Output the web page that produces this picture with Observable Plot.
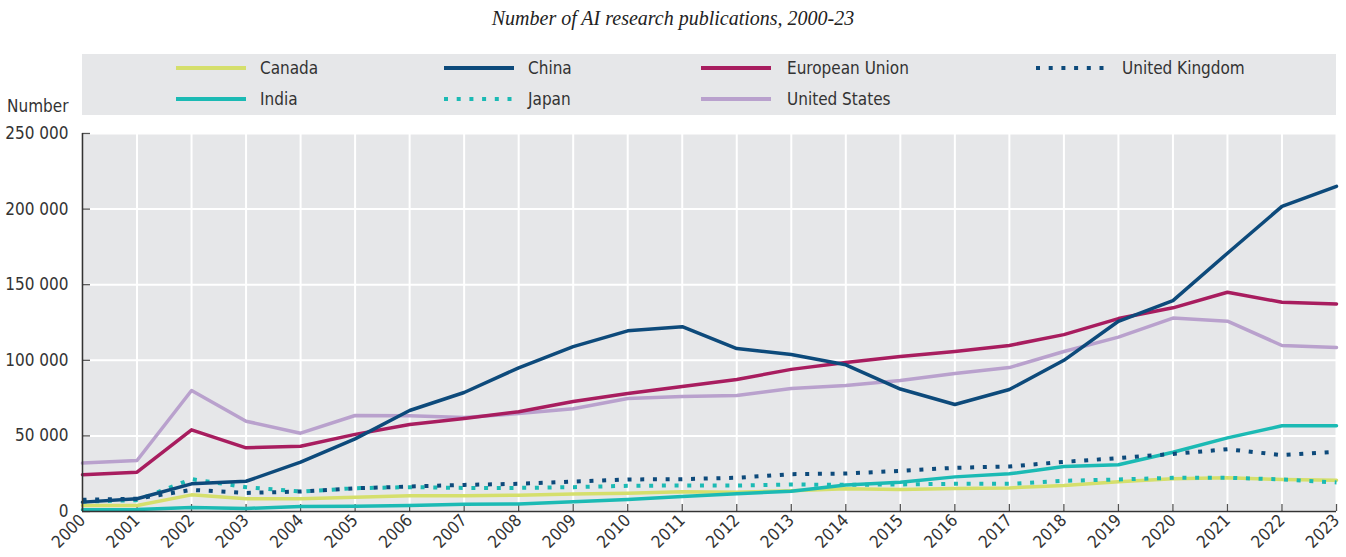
<!DOCTYPE html>
<html><head><meta charset="utf-8">
<script src="https://cdn.jsdelivr.net/npm/d3@7"></script>
<script src="https://cdn.jsdelivr.net/npm/@observablehq/plot@0.6"></script>
<style>
body{margin:0;width:1346px;height:557px;position:relative;overflow:hidden;background:#fff;font-family:"Liberation Sans Narrow","DejaVu Sans Condensed","Roboto Condensed",Roboto,sans-serif;color:#333;}
#sub{position:absolute;top:7px;left:0;width:1346px;text-align:center;font-style:italic;font-size:20px;font-family:"Liberation Serif","DejaVu Serif",serif;color:#222;}
#legend{position:absolute;left:82px;top:54px;width:1254px;height:61px;background:#e6e7e9;}
.sw{position:absolute;width:70px;height:6px;}
.lb{position:absolute;font-size:17px;line-height:20px;color:#333;}
#ylab{position:absolute;left:7px;top:96px;font-size:17px;color:#333;}
#chart{position:absolute;left:0;top:0;}
</style></head>
<body>
<div id="chart"></div>
<div id="sub">Number of AI research publications, 2000-23</div>
<div id="legend"></div>
<div id="ylab">Number</div>
<script>
const years = [2000,2001,2002,2003,2004,2005,2006,2007,2008,2009,2010,2011,2012,2013,2014,2015,2016,2017,2018,2019,2020,2021,2022,2023];
const yTicks = [0,50000,100000,150000,200000,250000];
const countries = ["Canada","China","European Union","United Kingdom","India","Japan","United States"];
const canada = [4000,4000,11000,8400,8400,9500,10400,10400,10800,11500,12100,13000,12800,13700,15000,14600,15200,15600,17200,19600,21600,22300,21200,20700];
const china  = [6200,8400,18300,20000,32600,48000,66800,78700,95000,109000,119500,122200,107800,103800,97000,81000,70800,80700,100000,125800,139500,170800,201800,215000];
const eu     = [24300,26000,54000,42100,43200,51000,57500,61500,66000,72800,78000,82700,87300,94000,98500,102500,105800,109800,117000,127600,134700,145000,138400,137300];
const uk     = [7700,8500,14300,12300,13200,15400,16500,17600,18300,19800,21200,21400,22300,24700,25100,26900,28900,29800,32800,35300,38100,41200,37300,39500];
const india  = [1100,1300,2600,2000,3300,3500,4000,4800,5000,6400,7900,9900,11700,13400,17600,19400,22900,24900,29800,30900,39200,48700,56700,56700];
const japan  = [6500,7500,21400,16100,13200,15400,16100,15600,15600,16100,17000,17200,17200,17900,17600,17900,18300,18300,20300,21200,22300,22300,21200,19200];
const us     = [32000,33700,80000,59700,51800,63500,63300,62200,64800,68000,74700,76000,76700,81300,83300,86600,91300,95200,105800,115300,127900,125900,109800,108500];

const seriesValues = {"Canada":canada,"China":china,"European Union":eu,"United Kingdom":uk,"India":india,"Japan":japan,"United States":us};
const styles = {
  "Canada":{stroke:"#d5df6c"},
  "China":{stroke:"#0d4a7b"},
  "European Union":{stroke:"#a81d5f"},
  "United Kingdom":{stroke:"#0d4a7b",dash:"4,8.7"},
  "India":{stroke:"#1bbab4"},
  "Japan":{stroke:"#1bbab4",dash:"4,8.7"},
  "United States":{stroke:"#b9a1cd"}
};
const drawOrder = ["Canada","India","Japan","United Kingdom","United States","European Union","China"];

const table = [];
for (const c of countries) seriesValues[c].forEach((v,i)=>table.push({country:c,year:years[i],value:v}));

const fmt = d => d3.format(",")(d).replace(/,/g," ");
const font = '"Liberation Sans Narrow","DejaVu Sans Condensed","Roboto Condensed",Roboto,sans-serif';

const lineMarks = drawOrder.map(c => Plot.line(table.filter(d=>d.country===c), {
  x:"year", y:"value", stroke: styles[c].stroke, strokeWidth: styles[c].dash?4:3.5,
  strokeDasharray: styles[c].dash, strokeLinecap: styles[c].dash?"butt":"round", strokeLinejoin:"round"
}));

const plot = Plot.plot({
  width:1346, height:557,
  marginLeft:82, marginRight:10, marginTop:133, marginBottom:46,
  style:{fontFamily:font, fontSize:"17px", color:"#333", background:"transparent", overflow:"visible"},
  x:{domain:[2000,2023], label:null},
  y:{domain:[0,250000], label:null},
  marks:[
    Plot.frame({fill:"#e6e7e9", stroke:null}),
    Plot.gridX(years, {stroke:"#fff", strokeOpacity:1, strokeWidth:2}),
    Plot.gridY(yTicks, {stroke:"#fff", strokeOpacity:1, strokeWidth:2}),
    Plot.tickX(years, {x:d=>d, insetTop:371, stroke:"#555", strokeWidth:1.3}),
    Plot.tickY(yTicks, {y:d=>d, insetRight:1246, stroke:"#555", strokeWidth:1.3}),
    Plot.axisY(yTicks, {tickSize:0, tickPadding:14, tickFormat:fmt, fontSize:17, fill:"#333", label:null}),
    Plot.axisX(years, {tickSize:0, tickRotate:-45, tickPadding:6, tickFormat:d=>String(d), fontSize:17, fill:"#333", label:null}),
    ...lineMarks,
    Plot.ruleY([0], {stroke:"#333", strokeWidth:1.6}),
    Plot.ruleX([2000], {stroke:"#333", strokeWidth:1.6})
  ]
});
document.getElementById("chart").appendChild(plot);

// legend
const legend = document.getElementById("legend");
const legendLayout = [
  ["Canada",0,0],["China",1,0],["European Union",2,0],["United Kingdom",3,0],
  ["India",0,1],["Japan",1,1],["United States",2,1]
];
const colSw = [94,362,619,954], colLb = [178,446,705,1040], rowY = [14,45];
for (const [c,col,row] of legendLayout) {
  const s = styles[c];
  const sw = document.createElementNS("http://www.w3.org/2000/svg","svg");
  sw.setAttribute("class","sw"); sw.setAttribute("width",70); sw.setAttribute("height",6);
  sw.style.left = colSw[col]+"px"; sw.style.top = (rowY[row]-3)+"px";
  const ln = document.createElementNS("http://www.w3.org/2000/svg","line");
  ln.setAttribute("x1",0); ln.setAttribute("x2",70); ln.setAttribute("y1",3); ln.setAttribute("y2",3);
  ln.setAttribute("stroke",s.stroke); ln.setAttribute("stroke-width",4);
  if (s.dash) ln.setAttribute("stroke-dasharray","4,8.7");
  sw.appendChild(ln); legend.appendChild(sw);
  const lb = document.createElement("div");
  lb.className="lb"; lb.textContent=c; lb.style.left=colLb[col]+"px"; lb.style.top=(rowY[row]-10)+"px";
  legend.appendChild(lb);
}
</script>
</body></html>
